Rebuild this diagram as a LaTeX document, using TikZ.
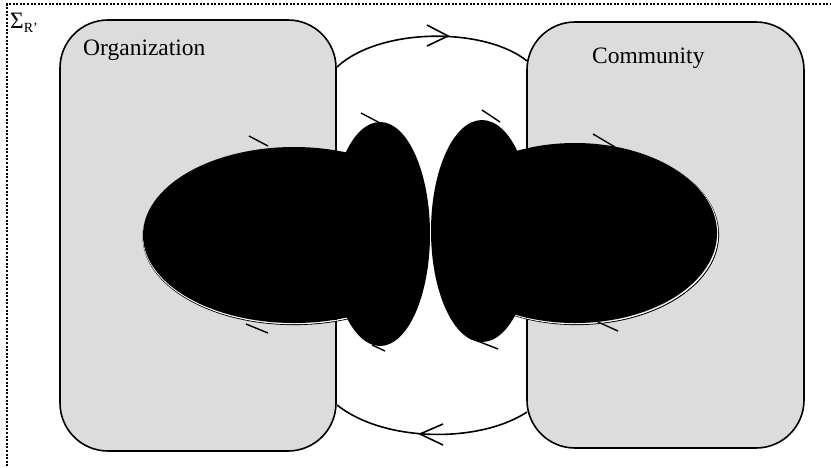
\documentclass[tikz,border=0pt]{standalone}
\usepackage{fontspec}
\setmainfont{Liberation Serif}
\usetikzlibrary{shapes.geometric}
\definecolor{boxgrey}{HTML}{DCDCDC}
\begin{document}
\begin{tikzpicture}[x=1pt,y=-1pt,
  panel/.style={draw=black,line width=1.6pt,fill=boxgrey,rounded corners=48pt,inner sep=0pt},
  blob/.style={ellipse,fill=black,draw=none,inner sep=0pt},
  flow/.style={line width=1.6pt},
  tick/.style={line width=1.4pt},
  lbl/.style={font=\fontsize{23.5}{28}\selectfont,inner sep=0pt}]
\useasboundingbox (0,0) rectangle (831,467);
% frame (top and left visible)
\coordinate (frTL) at (7,4);
\coordinate (frTR) at (835,4);
\coordinate (frBL) at (7,470);
\draw[line width=2pt,dash pattern=on 2pt off 1.6pt] (frBL) -- (frTL) -- (frTR);
% boxes
\node[panel,minimum width=276pt,minimum height=431pt] (org) at (198,235.5) {};
\node[panel,minimum width=277pt,minimum height=426pt] (com) at (665.5,235) {};
% arcs
\coordinate (tA) at (337,67);
\coordinate (tB) at (527,61);
\coordinate (bA) at (337,405);
\coordinate (bB) at (527,412);
\draw[flow] (tA) .. controls (380,27) and (485,27) .. (tB);
\draw[flow] (bB) .. controls (480,443) and (385,443) .. (bA);
\coordinate (tTip) at (448,36);
\draw[flow] (427,25) -- (tTip) -- (427,46);
\coordinate (bTip) at (420,434);
\draw[flow] (443,424) -- (bTip) -- (443,445);
% big blobs with a faint double edge
\coordinate (lc) at (294,235);
\coordinate (rc) at (575,233);
\begin{scope}
\clip (0,0) rectangle (380,467);
\draw[line width=1pt] ([shift={(0,1.6)}]lc) ellipse [x radius=151pt,y radius=88pt];
\draw[white,line width=0.8pt] ([shift={(0,0.8)}]lc) ellipse [x radius=151pt,y radius=88pt];
\node[blob,minimum width=302pt,minimum height=176pt] (lbig) at (lc) {};
\end{scope}
\begin{scope}
\clip (482,0) rectangle (831,467);
\draw[line width=1pt] ([shift={(1.6,1.6)}]rc) ellipse [x radius=142pt,y radius=90pt];
\draw[white,line width=0.8pt] ([shift={(0.8,0.8)}]rc) ellipse [x radius=142pt,y radius=90pt];
\node[blob,minimum width=284pt,minimum height=180pt] (rbig) at (rc) {};
\end{scope}
% small blobs
\node[blob,minimum width=100pt,minimum height=224pt] (lsmall) at (380,234) {};
\node[blob,minimum width=102pt,minimum height=222pt] (rsmall) at (482,231) {};
% ticks (arrowhead halves)
\draw[tick] (249,136) -- (268,146);
\draw[tick] (361,113) -- (380,123);
\draw[tick] (246,324) -- (268,333);
\draw[tick] (372,345) -- (385,351);
\draw[tick] (482,110) -- (500,122);
\draw[tick] (593,134) -- (615,147);
\draw[tick] (475,340) -- (498,349);
\draw[tick] (598,322) -- (618,331);
% labels
\node[lbl,anchor=base west] (orgl) at (83,55) {Organization};
\node[lbl,anchor=base west] (coml) at (592,63) {Community};
\node[lbl,anchor=base west] (sig) at (10,28) {Σ\raisebox{-4pt}{\fontsize{14}{16}\selectfont R’}};
\end{tikzpicture}
\end{document}
